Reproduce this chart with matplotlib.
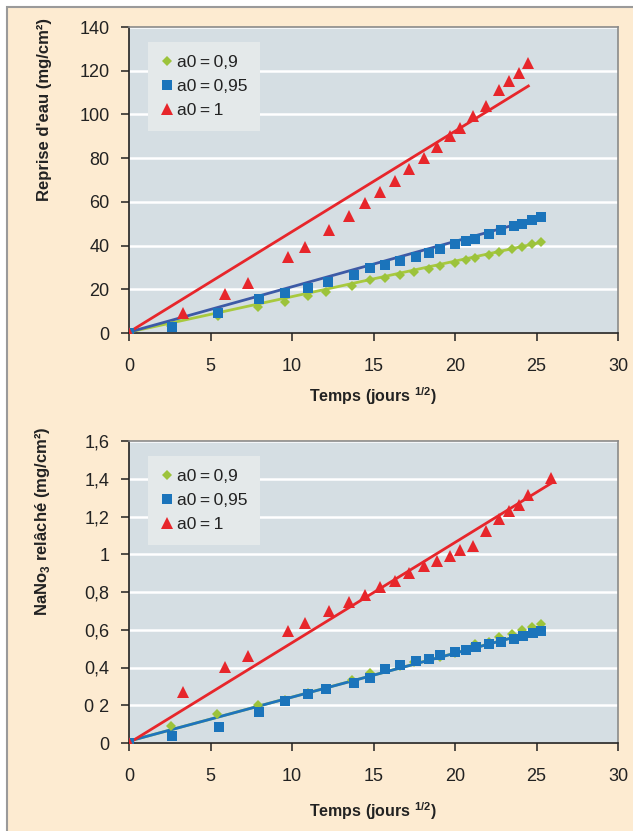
import matplotlib
matplotlib.use("Agg")
import matplotlib.pyplot as plt
from matplotlib.patches import Rectangle

plt.rcParams['font.family'] = ['Liberation Sans', 'DejaVu Sans']
plt.rcParams['mathtext.fontset'] = 'custom'
plt.rcParams['mathtext.rm'] = 'Liberation Sans'
plt.rcParams['mathtext.bf'] = 'Liberation Sans:bold'

# ---------------- data: top chart (Reprise d'eau) ----------------
top_green_x = [0, 2.6, 5.44, 7.93, 9.55, 11.0, 12.1, 13.7, 14.8, 15.7, 16.6, 17.5, 18.4, 19.1, 20.0, 20.7, 21.2, 22.1, 22.7, 23.5, 24.1, 24.7, 25.3]
top_green_y = [0, 3.0, 8.0, 12.0, 14.3, 16.9, 18.9, 21.7, 24.1, 25.3, 26.5, 27.9, 29.4, 30.7, 32.2, 33.4, 34.2, 35.8, 37.2, 38.3, 39.5, 40.6, 41.5]
top_blue_x = [0, 2.66, 5.48, 7.98, 9.59, 11.0, 12.2, 13.8, 14.8, 15.7, 16.6, 17.6, 18.4, 19.1, 20.0, 20.7, 21.2, 22.1, 22.8, 23.6, 24.1, 24.7, 25.3]
top_blue_y = [0, 2.9, 9.3, 15.4, 18.1, 20.7, 23.2, 26.5, 29.6, 31.1, 33.1, 34.9, 36.8, 38.6, 40.7, 42.1, 43.0, 45.4, 47.0, 49.0, 50.0, 51.5, 52.9]
top_red_x = [0, 3.29, 5.87, 7.32, 9.73, 10.8, 12.3, 13.5, 14.5, 15.4, 16.3, 17.2, 18.1, 18.9, 19.7, 20.3, 21.1, 21.9, 22.7, 23.3, 23.9, 24.5]
top_red_y = [0, 9.0, 17.7, 22.9, 34.6, 39.5, 47.3, 53.5, 59.3, 64.5, 69.4, 75.0, 80.2, 85.3, 90.1, 93.8, 99.3, 103.9, 111.2, 115.1, 119.1, 123.7]
# trend lines (start / end points)
top_fit_green_x = [0, 25.3]
top_fit_green_y = [0.4, 41.5]
top_fit_blue_x = [0, 25.3]
top_fit_blue_y = [0.4, 52.9]
top_fit_red_x = [0, 24.5]
top_fit_red_y = [0.4, 113.0]

# ---------------- data: bottom chart (NaNO3 relâché) ----------------
bot_green_x = [0, 2.58, 5.42, 7.89, 9.59, 11.0, 12.1, 13.7, 14.8, 15.7, 16.6, 17.5, 18.4, 19.1, 20.0, 20.7, 21.2, 22.1, 22.7, 23.5, 24.1, 24.7, 25.3]
bot_green_y = [0, 0.09, 0.152, 0.201, 0.228, 0.263, 0.286, 0.334, 0.369, 0.39, 0.408, 0.427, 0.443, 0.457, 0.475, 0.493, 0.523, 0.537, 0.563, 0.577, 0.599, 0.613, 0.63]
bot_blue_x = [0, 2.62, 5.52, 7.95, 9.59, 11.0, 12.1, 13.8, 14.8, 15.7, 16.6, 17.6, 18.4, 19.1, 20.0, 20.7, 21.3, 22.1, 22.8, 23.6, 24.2, 24.8, 25.3]
bot_blue_y = [0, 0.037, 0.087, 0.166, 0.224, 0.26, 0.286, 0.316, 0.343, 0.39, 0.411, 0.434, 0.447, 0.464, 0.482, 0.493, 0.507, 0.524, 0.537, 0.553, 0.567, 0.583, 0.593]
bot_red_x = [0, 3.29, 5.87, 7.32, 9.73, 10.8, 12.3, 13.5, 14.5, 15.4, 16.3, 17.2, 18.1, 18.9, 19.7, 20.3, 21.1, 21.9, 22.7, 23.3, 23.9, 24.5, 25.9]
bot_red_y = [0, 0.272, 0.403, 0.463, 0.593, 0.637, 0.699, 0.747, 0.786, 0.828, 0.86, 0.899, 0.938, 0.966, 0.992, 1.024, 1.045, 1.125, 1.185, 1.231, 1.263, 1.316, 1.402]
bot_fit_green_x = [0, 25.3]
bot_fit_green_y = [0.01, 0.60]
bot_fit_blue_x = [0, 25.3]
bot_fit_blue_y = [0.01, 0.599]
bot_fit_red_x = [0, 25.9]
bot_fit_red_y = [0.0, 1.376]

series_labels = ['a0\u2009=\u20090,9', 'a0\u2009=\u20090,95', 'a0\u2009=\u20091']
x_ticks = [0, 5, 10, 15, 20, 25, 30]
top_y_ticks = [0, 20, 40, 60, 80, 100, 120, 140]
bot_y_ticks = [0, 0.2, 0.4, 0.6, 0.8, 1.0, 1.2, 1.4, 1.6]
bot_y_ticklabels = ['0', '0 2', '0,4', '0,6', '0,8', '1', '1,2', '1,4', '1,6']

# ---------------- style ----------------
GREEN = '#9cc33b'
GREEN_LINE = '#a8c93e'
BLUE = '#1b74bb'
BLUE_LINE_TOP = '#3d5aa6'
BLUE_LINE_BOT = '#1f74bd'
RED = '#e7262b'
PANEL = '#fdebd1'
AXBG = '#d5dee3'
LEGBG = '#e4e9ea'

fig = plt.figure(figsize=(6.33, 8.31), dpi=100)
fig.patch.set_facecolor('white')
fig.patches.append(Rectangle((7 / 633, -0.01), 1.0, (831 - 7) / 831 + 0.01,
                             transform=fig.transFigure, facecolor=PANEL,
                             edgecolor='#9a9a9a', linewidth=1.5, zorder=-10))

ax1 = fig.add_axes([129 / 633, 498 / 831, 489 / 633, 306 / 831])
ax2 = fig.add_axes([129 / 633, 88 / 831, 489 / 633, 302 / 831])


def style_axes(ax):
    ax.set_facecolor(AXBG)
    for s in ['top', 'right']:
        ax.spines[s].set_color('#8a8a8a')
        ax.spines[s].set_linewidth(1.2)
    for s in ['left', 'bottom']:
        ax.spines[s].set_color('#222222')
        ax.spines[s].set_linewidth(1.2)
    ax.set_axisbelow(True)
    ax.yaxis.grid(True, color='white', linewidth=1.8)
    ax.xaxis.grid(False)
    ax.tick_params(axis='both', direction='out', length=6, width=1.1,
                   color='#222222', labelsize=13, labelcolor='#222222')
    ax.tick_params(axis='x', pad=12)
    ax.tick_params(axis='y', pad=8)
    ax.set_xlim(0, 30)
    ax.set_xticks(x_ticks)


def draw(ax, gx, gy, bx, by, rx, ry, fits, blue_line):
    (fgx, fgy), (fbx, fby), (frx, fry) = fits
    ax.plot(fgx, fgy, color=GREEN_LINE, linewidth=2.0, zorder=3)
    ax.plot(fbx, fby, color=blue_line, linewidth=2.0, zorder=3)
    ax.plot(frx, fry, color=RED, linewidth=2.0, zorder=3)
    hg, = ax.plot(gx, gy, linestyle='none', marker='D', markersize=5,
                  color=GREEN, markeredgewidth=0, zorder=4, label=series_labels[0])
    hb, = ax.plot(bx, by, linestyle='none', marker='s', markersize=7,
                  color=BLUE, markeredgewidth=0, zorder=5, label=series_labels[1])
    hr, = ax.plot(rx, ry, linestyle='none', marker='^', markersize=8,
                  color=RED, markeredgewidth=0, zorder=6, label=series_labels[2])
    leg = ax.legend(handles=[hg, hb, hr], loc='upper left',
                    bbox_to_anchor=(0.039, 0.951), frameon=True, fancybox=False,
                    facecolor=LEGBG, edgecolor='none', framealpha=1,
                    fontsize=12.5, handlelength=0.7, handletextpad=0.2,
                    labelspacing=0.5, borderpad=0.75, borderaxespad=0)
    for t in leg.get_texts():
        t.set_color('#222222')


style_axes(ax1)
ax1.set_ylim(0, 140)
ax1.set_yticks(top_y_ticks)
draw(ax1, top_green_x, top_green_y, top_blue_x, top_blue_y, top_red_x, top_red_y,
     [(top_fit_green_x, top_fit_green_y), (top_fit_blue_x, top_fit_blue_y),
      (top_fit_red_x, top_fit_red_y)], BLUE_LINE_TOP)
ax1.set_ylabel("Reprise d'eau (mg/cm²)", fontsize=12, fontweight='bold', color='#222222')
ax1.yaxis.set_label_coords(-0.157, 0.73)
ax1.set_xlabel("Temps (jours $^{\\mathbf{1/2}}$)", fontsize=11.5, fontweight='bold', color='#222222')
ax1.xaxis.set_label_coords(0.499, -0.17)

style_axes(ax2)
ax2.set_ylim(0, 1.6)
ax2.set_yticks(bot_y_ticks)
ax2.set_yticklabels(bot_y_ticklabels)
draw(ax2, bot_green_x, bot_green_y, bot_blue_x, bot_blue_y, bot_red_x, bot_red_y,
     [(bot_fit_green_x, bot_fit_green_y), (bot_fit_blue_x, bot_fit_blue_y),
      (bot_fit_red_x, bot_fit_red_y)], BLUE_LINE_BOT)
ax2.set_ylabel("NaNo$_\\mathbf{3}$ relâché (mg/cm²)", fontsize=12, fontweight='bold', color='#222222')
ax2.yaxis.set_label_coords(-0.157, 0.735)
ax2.set_xlabel("Temps (jours $^{\\mathbf{1/2}}$)", fontsize=11.5, fontweight='bold', color='#222222')
ax2.xaxis.set_label_coords(0.499, -0.19)

fig.savefig('out.png', dpi=100, facecolor=fig.get_facecolor())
